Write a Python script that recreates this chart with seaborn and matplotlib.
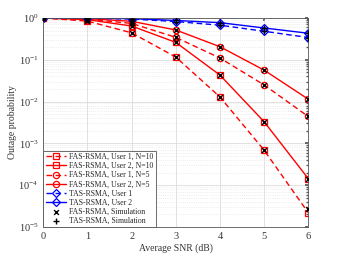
import numpy as np
import pandas as pd
import matplotlib
matplotlib.use("Agg")
import matplotlib.pyplot as plt
import seaborn as sns

snr = [0, 1, 2, 3, 4, 5, 6]
fas_u1_n10 = [0.99, 0.84, 0.44, 0.116, 0.0129, 6.9e-4, 2.2e-5]
fas_u2_n10 = [0.99, 0.91, 0.64, 0.26, 0.043, 3.3e-3, 1.44e-4]
fas_u1_n5 = [1.0, 0.93, 0.74, 0.343, 0.11, 0.025, 4.4e-3]
fas_u2_n5 = [1.0, 0.96, 0.83, 0.515, 0.205, 0.0565, 0.0114]
tas_u1 = [1.0, 0.985, 0.94, 0.82, 0.67, 0.48, 0.34]
tas_u2 = [1.0, 0.99, 0.96, 0.87, 0.77, 0.575, 0.43]
fas_sim_u1_n10 = [0.99, 0.84, 0.44, 0.116, 0.0129, 6.9e-4, 2.7e-5]
labels = ["FAS-RSMA, User 1, N=10", "FAS-RSMA, User 2, N=10",
          "FAS-RSMA, User 1, N=5", "FAS-RSMA, User 2, N=5",
          "TAS-RSMA, User 1", "TAS-RSMA, User 2",
          "FAS-RSMA, Simulation", "TAS-RSMA, Simulation"]

sns.set_theme(style="white")
plt.rcParams['font.family'] = ['Liberation Serif', 'DejaVu Serif']
plt.rcParams['mathtext.fontset'] = 'stix'

fig = plt.figure(figsize=(3.41, 2.56), dpi=100)
ax = fig.add_axes([0.127, 0.113, 0.777, 0.817])

red = '#ff0000'
blue = '#0000ff'
series = [
    (fas_u1_n10, red, (0, (4, 2.5)), 's', labels[0]),
    (fas_u2_n10, red, '-', 's', labels[1]),
    (fas_u1_n5, red, (0, (4, 2.5)), 'o', labels[2]),
    (fas_u2_n5, red, '-', 'o', labels[3]),
    (tas_u1, blue, (0, (4, 2.5)), 'D', labels[4]),
    (tas_u2, blue, '-', 'D', labels[5]),
]
for vals, c, ls, m, lab in series:
    df = pd.DataFrame({'x': snr, 'y': vals})
    sns.lineplot(data=df, x='x', y='y', ax=ax, color=c, linestyle=ls, lw=1.0,
                 marker=m, markersize=4.5, markerfacecolor='none',
                 markeredgecolor=c, markeredgewidth=0.9, label=lab)

fas_sim = pd.DataFrame({'x': snr * 4,
                        'y': fas_sim_u1_n10 + fas_u2_n10 + fas_u1_n5 + fas_u2_n5})
tas_sim = pd.DataFrame({'x': snr * 2, 'y': tas_u1 + tas_u2})
sns.scatterplot(data=fas_sim, x='x', y='y', ax=ax, marker='x', color='black',
                s=12, linewidth=1.0, label=labels[6], zorder=5)
sns.scatterplot(data=tas_sim, x='x', y='y', ax=ax, marker='+', color='black',
                s=18, linewidth=1.0, label=labels[7], zorder=5)

ax.set_yscale('log')
ax.set_xlim(0, 6)
ax.set_ylim(1e-5, 1.0)
ax.set_xticks(snr)
ax.set_yticks([1e-5, 1e-4, 1e-3, 1e-2, 1e-1, 1])
ax.grid(True, which='major', color='#dcdcdc', lw=0.6)
ax.grid(True, which='minor', color='#e0e0e0', lw=0.5, ls=':')
ax.tick_params(which='both', direction='in', top=True, right=True,
               labelsize=7.5, labelcolor='#333333', color='#555555', length=2.5)
ax.tick_params(which='minor', length=1.5)
for sp in ax.spines.values():
    sp.set_color('#555555')
    sp.set_linewidth(0.6)
ax.set_xlabel('Average SNR (dB)', fontsize=7, color='#333333', labelpad=2)
ax.set_ylabel('Outage probability', fontsize=7, color='#333333', labelpad=1)

leg = ax.legend(loc='lower left', fontsize=5.6, labelspacing=0.14,
                handlelength=2.6, handletextpad=0.4, borderpad=0.3,
                borderaxespad=0.0, frameon=True, fancybox=False, numpoints=1,
                scatterpoints=1, edgecolor='#555555', framealpha=1)
leg.get_frame().set_linewidth(0.6)

fig.savefig('out.png', dpi=100)
